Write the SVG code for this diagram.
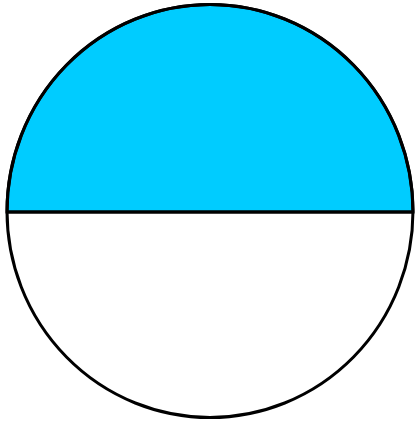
<svg xmlns="http://www.w3.org/2000/svg" width="417" height="422" viewBox="0 0 417 422">
<style>.s{stroke:#000;stroke-width:3;}</style>
<rect width="417" height="422" fill="#fff"/>
<g id="top-half"><path class="s" d="M7,212 A203,207.5 0 0 1 413,212 Z" fill="#00ccff"/></g>
<g id="circle"><ellipse class="s" cx="210" cy="211" rx="203" ry="206.5" fill="none"/></g>
<g id="connectors"><line class="s" x1="7" y1="212" x2="413" y2="212"/></g>
</svg>
